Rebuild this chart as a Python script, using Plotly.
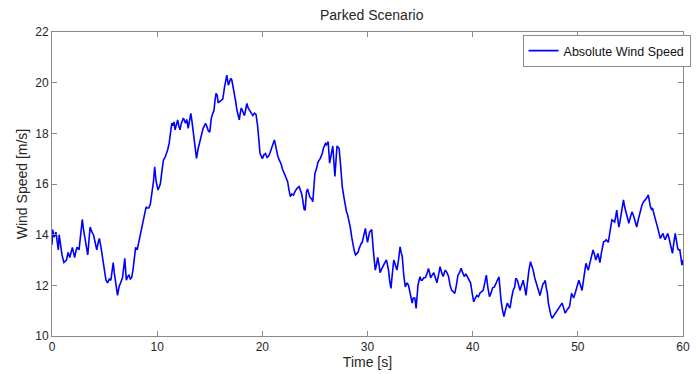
import plotly.graph_objects as go

# Absolute wind speed time history for the parked case
time_s = [
    0.0, 0.06, 0.2, 0.38, 0.5, 0.6, 0.68, 0.8, 0.95, 1.13, 1.25, 1.38, 1.53, 1.69, 1.94, 2.05, 2.15, 2.3, 2.38, 2.57,
    2.72, 2.88, 3.0, 3.19, 3.4, 3.52, 3.63, 3.8, 3.94, 4.1, 4.26, 4.4, 4.5, 4.66, 4.8, 4.97, 5.13, 5.29, 5.45, 5.6,
    5.72, 5.82, 5.92, 6.01, 6.12, 6.23, 6.38, 6.54, 6.7, 6.85, 6.92, 7.0, 7.07, 7.2, 7.32, 7.45, 7.57, 7.7, 7.8, 7.95,
    8.1, 8.2, 8.32, 8.42, 8.55, 8.73, 8.85, 8.95, 9.05, 9.2, 9.35, 9.51, 9.65, 9.76, 9.9, 10.08, 10.2, 10.3, 10.45, 10.6,
    10.75, 10.9, 11.0, 11.14, 11.28, 11.39, 11.5, 11.6, 11.7, 11.82, 11.95, 12.05, 12.17, 12.3, 12.49, 12.6, 12.7, 12.82, 12.95, 13.08,
    13.2, 13.3, 13.4, 13.55, 13.74, 13.9, 14.05, 14.2, 14.37, 14.5, 14.6, 14.7, 14.86, 15.0, 15.15, 15.3, 15.4, 15.5, 15.6, 15.71,
    15.8, 15.93, 16.1, 16.24, 16.4, 16.55, 16.62, 16.77, 16.87, 17.0, 17.1, 17.25, 17.34, 17.45, 17.58, 17.7, 17.81, 17.9, 18.0, 18.15,
    18.3, 18.42, 18.53, 18.65, 18.8, 18.95, 19.1, 19.25, 19.4, 19.55, 19.65, 19.78, 19.9, 20.0, 20.15, 20.3, 20.45, 20.6, 20.75, 20.9,
    21.03, 21.15, 21.3, 21.47, 21.6, 21.78, 21.9, 22.0, 22.1, 22.2, 22.3, 22.4, 22.52, 22.66, 22.8, 22.96, 23.1, 23.3, 23.5, 23.62,
    23.75, 23.85, 23.97, 24.07, 24.2, 24.3, 24.4, 24.5, 24.6, 24.7, 24.8, 24.9, 25.0, 25.15, 25.3, 25.5, 25.62, 25.7, 25.8, 25.9,
    26.0, 26.1, 26.26, 26.4, 26.55, 26.7, 26.8, 26.9, 27.0, 27.1, 27.2, 27.3, 27.45, 27.6, 27.75, 27.9, 28.0, 28.1, 28.22, 28.36,
    28.5, 28.6, 28.72, 28.86, 29.0, 29.1, 29.2, 29.3, 29.4, 29.5, 29.65, 29.8, 29.9, 30.0, 30.1, 30.2, 30.3, 30.4, 30.55, 30.74,
    30.85, 30.97, 31.1, 31.2, 31.35, 31.5, 31.65, 31.8, 31.9, 32.0, 32.1, 32.23, 32.35, 32.5, 32.65, 32.8, 32.95, 33.1, 33.2, 33.3,
    33.46, 33.6, 33.75, 33.9, 34.1, 34.24, 34.35, 34.5, 34.62, 34.7, 34.8, 34.9, 35.0, 35.1, 35.2, 35.35, 35.5, 35.65, 35.8, 35.9,
    36.0, 36.15, 36.3, 36.45, 36.6, 36.75, 36.9, 37.05, 37.2, 37.3, 37.4, 37.55, 37.7, 37.85, 38.0, 38.15, 38.3, 38.45, 38.6, 38.75,
    38.9, 39.05, 39.2, 39.35, 39.5, 39.65, 39.8, 39.95, 40.1, 40.25, 40.4, 40.55, 40.7, 40.85, 41.0, 41.15, 41.3, 41.45, 41.6, 41.75,
    41.9, 42.07, 42.2, 42.35, 42.5, 42.6, 42.7, 42.85, 42.97, 43.1, 43.3, 43.4, 43.55, 43.7, 43.85, 44.0, 44.1, 44.25, 44.4, 44.5,
    44.65, 44.8, 44.95, 45.07, 45.15, 45.25, 45.35, 45.5, 45.62, 45.75, 45.9, 46.05, 46.2, 46.4, 46.55, 46.7, 46.8, 46.9, 47.0, 47.1,
    47.2, 47.3, 47.42, 47.55, 47.7, 47.85, 48.0, 48.2, 48.35, 48.5, 48.65, 48.8, 49.0, 49.2, 49.3, 49.4, 49.5, 49.6, 49.75, 49.9,
    50.0, 50.1, 50.25, 50.4, 50.5, 50.6, 50.77, 50.9, 51.0, 51.1, 51.2, 51.3, 51.45, 51.6, 51.7, 51.8, 51.9, 52.0, 52.1, 52.25,
    52.45, 52.6, 52.7, 52.8, 52.9, 53.05, 53.24, 53.35, 53.5, 53.6, 53.7, 53.8, 53.9, 54.0, 54.1, 54.2, 54.34, 54.45, 54.6, 54.75,
    54.85, 55.0, 55.15, 55.3, 55.4, 55.5, 55.6, 55.75, 55.9, 56.0, 56.1, 56.25, 56.4, 56.55, 56.7, 56.8, 56.9, 57.0, 57.1, 57.25,
    57.4, 57.5, 57.65, 57.75, 57.85, 57.95, 58.1, 58.2, 58.3, 58.45, 58.55, 58.65, 58.75, 58.9, 59.0, 59.1, 59.26, 59.4, 59.5, 59.6,
    59.7, 59.8, 59.9, 60.0,
]

wind_speed = [
    13.6, 14.2, 13.9, 14.1, 13.7, 13.4, 14.0, 13.6, 13.2, 12.9, 12.95, 13.0, 13.3, 13.1, 13.5, 13.3, 13.1, 13.4, 13.5, 13.4,
    13.9, 14.6, 14.2, 13.7, 13.2, 13.8, 14.3, 14.1, 14.0, 13.7, 13.4, 13.7, 13.85, 13.5, 13.1, 12.7, 12.2, 12.1, 12.25, 12.2,
    12.6, 12.9, 12.5, 12.2, 11.9, 11.6, 11.95, 12.1, 12.3, 12.8, 13.07, 12.6, 12.2, 12.35, 12.4, 12.25, 12.3, 12.6, 13.0, 13.5,
    13.4, 13.6, 13.9, 14.1, 14.4, 14.8, 15.0, 15.1, 15.05, 15.05, 15.2, 15.63, 16.1, 16.68, 16.1, 15.76, 15.9, 16.0, 16.5, 16.95,
    17.05, 17.2, 17.35, 17.6, 18.1, 18.4, 18.3, 18.45, 18.14, 18.35, 18.53, 18.3, 18.14, 18.4, 18.6, 18.5, 18.4, 18.55, 18.2, 18.5,
    18.79, 18.5, 18.2, 17.6, 17.01, 17.4, 17.7, 18.0, 18.2, 18.3, 18.4, 18.3, 18.1, 18.05, 18.6, 18.8, 18.9, 19.3, 19.58, 19.5,
    19.2, 19.25, 19.3, 19.35, 19.8, 20.25, 20.3, 19.9, 20.0, 20.17, 20.1, 19.8, 19.58, 19.3, 18.92, 18.7, 18.53, 18.8, 19.0, 18.85,
    18.7, 18.95, 19.18, 19.0, 18.9, 18.8, 18.7, 18.8, 18.75, 18.3, 17.7, 17.2, 17.1, 17.0, 17.15, 17.2, 17.05, 17.1, 17.25, 17.4,
    17.6, 17.74, 17.4, 17.1, 16.95, 16.8, 16.6, 16.5, 16.35, 16.3, 16.2, 16.1, 15.8, 15.5, 15.6, 15.56, 15.7, 15.83, 15.9, 15.75,
    15.6, 15.35, 15.0, 14.97, 15.7, 15.8, 15.6, 15.5, 15.45, 15.4, 15.3, 15.9, 16.42, 16.6, 16.88, 17.0, 17.1, 17.2, 17.4, 17.5,
    17.6, 17.55, 17.67, 16.82, 17.2, 17.5, 16.9, 16.3, 16.9, 17.5, 17.45, 17.4, 16.7, 15.9, 15.5, 15.1, 14.9, 14.8, 14.6, 14.3,
    13.9, 13.6, 13.4, 13.2, 13.25, 13.3, 13.45, 13.6, 13.65, 13.7, 14.0, 14.25, 13.95, 13.7, 13.9, 14.1, 14.15, 14.2, 13.4, 12.6,
    12.8, 13.1, 12.8, 12.5, 12.65, 12.8, 12.9, 13.0, 12.8, 12.6, 12.2, 11.88, 12.4, 13.0, 12.8, 12.6, 13.0, 13.52, 13.3, 13.15,
    12.34, 11.94, 12.1, 12.0, 11.6, 11.3, 11.5, 11.5, 11.09, 11.6, 12.0, 12.2, 12.34, 12.2, 12.2, 12.3, 12.3, 12.45, 12.67, 12.5,
    12.3, 12.4, 12.5, 12.3, 12.1, 12.4, 12.74, 12.5, 12.35, 12.5, 12.6, 12.5, 12.36, 12.0, 11.8, 11.75, 11.68, 12.0, 12.4, 12.5,
    12.67, 12.5, 12.35, 12.45, 12.35, 12.2, 12.1, 11.7, 11.35, 11.5, 11.6, 11.55, 11.7, 11.75, 11.8, 12.1, 12.4, 11.9, 11.55, 11.7,
    11.9, 11.94, 12.1, 12.2, 12.34, 11.7, 11.4, 11.0, 10.77, 11.0, 11.3, 11.2, 11.1, 11.5, 11.8, 11.94, 12.28, 12.2, 12.0, 11.8,
    12.0, 12.2, 11.9, 11.6, 11.9, 12.3, 12.6, 12.93, 12.8, 12.6, 12.3, 12.07, 11.8, 11.6, 11.85, 12.07, 12.1, 12.2, 11.9, 11.7,
    11.3, 11.03, 10.85, 10.7, 10.8, 10.9, 11.0, 11.1, 11.2, 11.3, 11.1, 10.9, 11.05, 11.15, 11.4, 11.68, 11.6, 11.5, 11.7, 11.88,
    12.0, 12.2, 12.0, 11.8, 12.1, 12.34, 12.87, 12.7, 12.6, 12.8, 13.0, 13.2, 13.4, 13.2, 13.0, 13.1, 13.26, 13.1, 12.9, 13.3,
    13.72, 13.75, 13.8, 13.75, 13.7, 14.1, 14.58, 14.55, 14.5, 14.7, 14.97, 14.6, 14.3, 14.5, 14.8, 15.1, 15.37, 15.1, 14.85, 14.6,
    14.45, 14.7, 14.9, 14.75, 14.6, 14.45, 14.3, 14.6, 14.9, 15.05, 15.17, 15.3, 15.37, 15.45, 15.57, 15.3, 15.1, 15.0, 15.05, 14.8,
    14.6, 14.4, 14.18, 14.0, 13.85, 13.95, 14.05, 13.9, 13.8, 13.95, 14.05, 13.9, 13.7, 13.45, 13.26, 13.6, 14.05, 13.7, 13.45, 13.4,
    13.4, 13.1, 12.8, 13.0,
]

x_ticks = [0, 10, 20, 30, 40, 50, 60]
y_ticks = [10, 12, 14, 16, 18, 20, 22]

font_family = "Liberation Sans, Arial, sans-serif"
text_color = "#262626"
frame_color = "#8a8a8a"

fig = go.Figure()
fig.add_trace(go.Scatter(
    x=time_s,
    y=wind_speed,
    mode="lines",
    name="Absolute Wind Speed",
    line=dict(color="#0000ff", width=1.6),
))

axis_common = dict(
    showline=True,
    linecolor=frame_color,
    linewidth=1,
    mirror="ticks",
    ticks="inside",
    ticklen=5,
    tickcolor=frame_color,
    showgrid=False,
    zeroline=False,
    tickfont=dict(family=font_family, size=12, color=text_color),
)

fig.update_layout(
    width=700,
    height=374,
    margin=dict(l=52, r=9, t=32, b=38),
    paper_bgcolor="white",
    plot_bgcolor="white",
    title=dict(
        text="Parked Scenario",
        x=0.531, xanchor="center",
        y=0.96, yanchor="middle",
        font=dict(family=font_family, size=14, color=text_color),
    ),
    xaxis=dict(
        range=[0, 60],
        tickvals=x_ticks,
        title=dict(text="Time [s]", standoff=2,
                   font=dict(family=font_family, size=14, color=text_color)),
        **axis_common,
    ),
    yaxis=dict(
        range=[10, 22],
        tickvals=y_ticks,
        title=dict(text="Wind Speed [m/s]", standoff=4,
                   font=dict(family=font_family, size=14, color=text_color)),
        **axis_common,
    ),
    showlegend=True,
    legend=dict(
        x=1.012, xanchor="right",
        y=0.99, yanchor="top",
        bgcolor="white",
        bordercolor=frame_color,
        borderwidth=1,
        font=dict(family=font_family, size=12.5, color="#111111"),
        itemwidth=30,
        tracegroupgap=0,
    ),
)

fig.write_html("out.html")
